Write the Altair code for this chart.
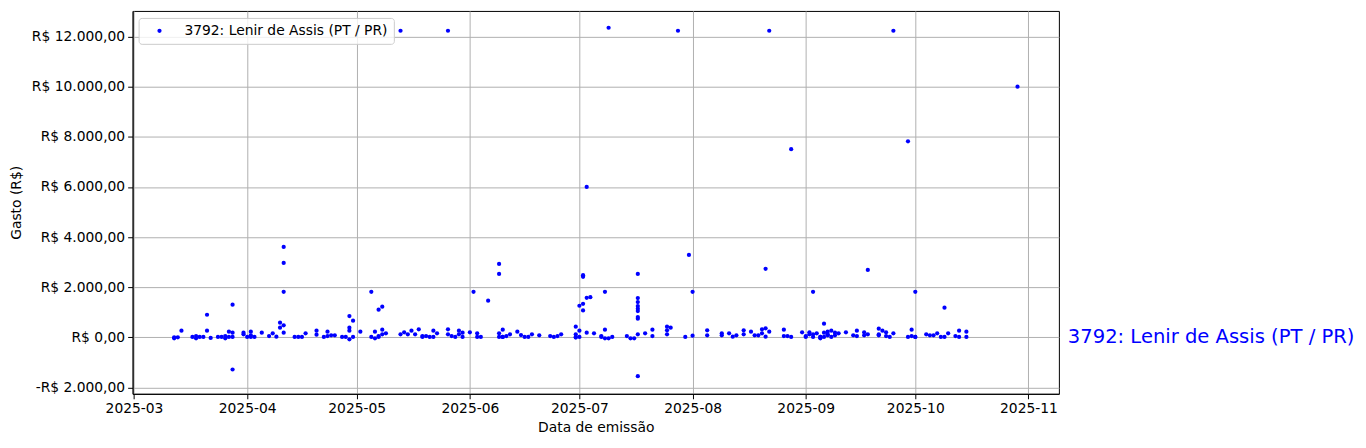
import altair as alt
import pandas as pd

series_name = "3792: Lenir de Assis (PT / PR)"

emission_dates = [
    "2025-03-12", "2025-03-12", "2025-03-13", "2025-03-14",
    "2025-03-17", "2025-03-18", "2025-03-18", "2025-03-19", "2025-03-20",
    "2025-03-21", "2025-03-21", "2025-03-22",
    "2025-03-24", "2025-03-25", "2025-03-26", "2025-03-26", "2025-03-27", "2025-03-27",
    "2025-03-28", "2025-03-28", "2025-03-28", "2025-03-28",
    "2025-03-31", "2025-03-31", "2025-04-01", "2025-04-02", "2025-04-02", "2025-04-02",
    "2025-04-03", "2025-04-05",
    "2025-04-07", "2025-04-08", "2025-04-09", "2025-04-10", "2025-04-10", "2025-04-11",
    "2025-04-11", "2025-04-11", "2025-04-11", "2025-04-11",
    "2025-04-14", "2025-04-15", "2025-04-16", "2025-04-17", "2025-04-20", "2025-04-20",
    "2025-04-22", "2025-04-23", "2025-04-23", "2025-04-24", "2025-04-25",
    "2025-04-27", "2025-04-28", "2025-04-29", "2025-04-29", "2025-04-29", "2025-04-29",
    "2025-04-30", "2025-04-30", "2025-05-02",
    "2025-05-05", "2025-05-05", "2025-05-06", "2025-05-06", "2025-05-07", "2025-05-07",
    "2025-05-07", "2025-05-08", "2025-05-08", "2025-05-08", "2025-05-09",
    "2025-05-13", "2025-05-13", "2025-05-14", "2025-05-15", "2025-05-16", "2025-05-17",
    "2025-05-18", "2025-05-19", "2025-05-19", "2025-05-20", "2025-05-21", "2025-05-22",
    "2025-05-22", "2025-05-23",
    "2025-05-26", "2025-05-26", "2025-05-26", "2025-05-27", "2025-05-28", "2025-05-29",
    "2025-05-29", "2025-05-30", "2025-05-30",
    "2025-06-01", "2025-06-02", "2025-06-03", "2025-06-03", "2025-06-04", "2025-06-06",
    "2025-06-09", "2025-06-09", "2025-06-09", "2025-06-09", "2025-06-10", "2025-06-10",
    "2025-06-10", "2025-06-11", "2025-06-12",
    "2025-06-14", "2025-06-15", "2025-06-16", "2025-06-17", "2025-06-18", "2025-06-20",
    "2025-06-23", "2025-06-24", "2025-06-25", "2025-06-26",
    "2025-06-30", "2025-06-30", "2025-06-30", "2025-06-30", "2025-07-01", "2025-07-01",
    "2025-07-01",
    "2025-07-02", "2025-07-02", "2025-07-02", "2025-07-02", "2025-07-03", "2025-07-03",
    "2025-07-03", "2025-07-04", "2025-07-05",
    "2025-07-07", "2025-07-07", "2025-07-08", "2025-07-08", "2025-07-08", "2025-07-09",
    "2025-07-09", "2025-07-10",
    "2025-07-14", "2025-07-15", "2025-07-16", "2025-07-17",
    "2025-07-17", "2025-07-17", "2025-07-17", "2025-07-17", "2025-07-17", "2025-07-17",
    "2025-07-17", "2025-07-17", "2025-07-17",
    "2025-07-19", "2025-07-21", "2025-07-21", "2025-07-25", "2025-07-26", "2025-07-25",
    "2025-07-25",
    "2025-07-28", "2025-07-30", "2025-07-31", "2025-08-01", "2025-08-01",
    "2025-08-05", "2025-08-05", "2025-08-09", "2025-08-09", "2025-08-11", "2025-08-12",
    "2025-08-13", "2025-08-15", "2025-08-15", "2025-08-17",
    "2025-08-18", "2025-08-19", "2025-08-20", "2025-08-20", "2025-08-21", "2025-08-21",
    "2025-08-21", "2025-08-22", "2025-08-22",
    "2025-08-26", "2025-08-26", "2025-08-27", "2025-08-28", "2025-08-28", "2025-08-31",
    "2025-09-01", "2025-09-01", "2025-09-02", "2025-09-02", "2025-09-03", "2025-09-03",
    "2025-09-03", "2025-09-04", "2025-09-05", "2025-09-05", "2025-09-05", "2025-09-06",
    "2025-09-06", "2025-09-06", "2025-09-07", "2025-09-07", "2025-09-07", "2025-09-08",
    "2025-09-08", "2025-09-09", "2025-09-09", "2025-09-10",
    "2025-09-12", "2025-09-14", "2025-09-15", "2025-09-15", "2025-09-17", "2025-09-17",
    "2025-09-18", "2025-09-18",
    "2025-09-21", "2025-09-21", "2025-09-21", "2025-09-22", "2025-09-23", "2025-09-23",
    "2025-09-24", "2025-09-25", "2025-09-25",
    "2025-09-29", "2025-09-29", "2025-09-30", "2025-09-30", "2025-10-01", "2025-10-01",
    "2025-10-01",
    "2025-10-04", "2025-10-05", "2025-10-06", "2025-10-07", "2025-10-08", "2025-10-09",
    "2025-10-09", "2025-10-10",
    "2025-10-12", "2025-10-13", "2025-10-13", "2025-10-15", "2025-10-15",
    "2025-10-29",
]

expense_values = [
    0, -40, 0, 265,
    15, 50, -40, 15, 15,
    265, 900, -25,
    15, 15, 50, -40, 15, 225,
    185, 15, 1300, -1285,
    120, 185, 15, 15, 80, 225,
    15, 185,
    50, 160, 25, 583, 384, 185,
    1815, 2968, 477, 3606,
    15, 15, 15, 160, 265, 105,
    15, 225, 50, 80, 80,
    15, 15, 265, 848, 384, -80,
    15, 663, 225,
    1815, 15, 225, -40, 15, 1100,
    50, 305, 120, 1220, 160,
    120, 12230, 200, 120, 265, 120,
    318, 50, 15, 50, 15, 265,
    15, 160,
    12230, 318, 120, 50, 15, 265,
    120, 15, 185,
    200, 1815, 160, 15, 15, 1460,
    160, 15, 2928, 2530, 15, 305,
    15, 50, 120,
    225, 90, 15, 15, 120, 80,
    50, 15, 50, 120,
    424, 120, 15, -10, 265, 15,
    1259,
    1338, 1073, 2478, 2411, 6000, 185,
    1577, 1600, 160,
    50, 15, 1815, 305, -40, -40,
    12350, 15,
    50, -40, -40, 120,
    2530, 1564, 1405, 1245, 1140, 1047,
    808, 742, -1550,
    160, 305, 50, 424, 384, 278,
    120,
    12230, 15, 3288, 1815, 65,
    278, 80, 160, 80, 160, 25,
    80, 278, 120, 225,
    80, 80, 160, 318, 358, 25,
    2730, 225, 12230,
    305, 50, 50, 15, 7503, 200,
    15, 50, 120, 200, 15, 1815,
    120, 160, 15, 15, -40, 543,
    185, 15, 80, 225, 120, 15,
    265, 185, 80, 160,
    200, 80, 265, 50, 80, 200,
    120, 2690,
    345, 120, 80, 265, 50, 200,
    15, 12230, 160,
    7821, 15, 50, 305, 1815, 15,
    15,
    120, 80, 80, 160, 15, 15,
    1180, 160,
    50, 265, 15, 225, 15,
    10000,
]

y_tick_values = [-2000, 0, 2000, 4000, 6000, 8000, 10000, 12000]
x_tick_months = [3, 4, 5, 6, 7, 8, 9, 10, 11]

df = pd.DataFrame({"data": emission_dates, "gasto": expense_values, "serie": series_name})

FONT = "DejaVu Sans"

x_scale = alt.Scale(
    type="utc",
    domain=[
        alt.DateTime(year=2025, month=2, date=28, hours=15, utc=True),
        alt.DateTime(year=2025, month=11, date=9, hours=8, utc=True),
    ],
)

y_label_expr = (
    "(datum.value < 0 ? '-' : '') + 'R$ ' + "
    "replace(format(abs(datum.value), ','), ',', '.') + ',00'"
)

points = alt.Chart(df).mark_point(filled=True, size=18, opacity=1, shape="circle").encode(
    x=alt.X(
        "data:T",
        scale=x_scale,
        axis=alt.Axis(
            values=[alt.DateTime(year=2025, month=m, date=1, utc=True) for m in x_tick_months],
            format="%Y-%m",
            title="Data de emissão",
            labelPadding=3,
            titlePadding=5,
        ),
    ),
    y=alt.Y(
        "gasto:Q",
        scale=alt.Scale(domain=[-2254, 13021], nice=False, zero=False),
        axis=alt.Axis(
            values=y_tick_values,
            labelExpr=y_label_expr,
            title="Gasto (R$)",
            labelPadding=3,
            titlePadding=8,
        ),
    ),
    color=alt.Color(
        "serie:N",
        scale=alt.Scale(domain=[series_name], range=["#0000ff"]),
        legend=alt.Legend(
            title=None,
            orient="none",
            legendX=6,
            legendY=7,
            padding=6,
            symbolOffset=8,
            labelOffset=18,
            labelLimit=0,
            symbolType="circle",
            symbolSize=18,
            labelFont=FONT,
            labelFontSize=13.9,
            labelColor="black",
            strokeColor="#cccccc",
            fillColor="rgba(255,255,255,0.8)",
            cornerRadius=3,
        ),
    ),
)

side_label = alt.Chart(pd.DataFrame({"t": [series_name]})).mark_text(
    align="left", baseline="middle", fontSize=19.6, color="#0000ff", font=FONT
).encode(x=alt.value(938), y=alt.datum(0), text="t:N")

chart = (
    alt.layer(points, side_label)
    .properties(
        width=929,
        height=384,
        autosize=alt.AutoSizeParams(type="none"),
        padding={"left": 125, "top": 2.3, "right": 300, "bottom": 46},
    )
    .configure_view(stroke="black", strokeWidth=1)
    .configure_axis(
        labelFont=FONT,
        labelFontSize=13.9,
        labelColor="black",
        titleFont=FONT,
        titleFontSize=13.9,
        titleFontWeight="normal",
        titleColor="black",
        tickColor="black",
        tickSize=5,
        domainColor="black",
        gridColor="#b0b0b0",
        gridWidth=1,
        gridOpacity=1,
    )
)

chart.save("out.html", embed_options={"renderer": "svg", "actions": False})
